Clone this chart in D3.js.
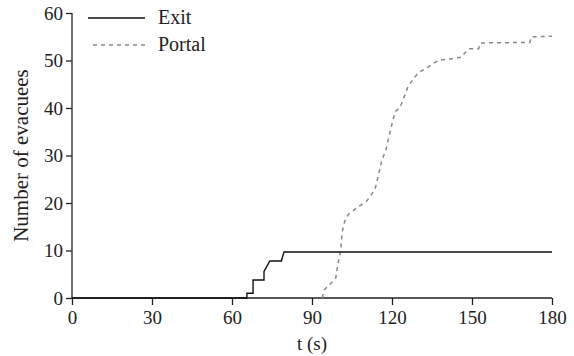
<!DOCTYPE html>
<html>
<head>
<meta charset="utf-8">
<script src="https://cdn.jsdelivr.net/npm/d3@7"></script>
<style>
  body { margin: 0; background: #fff; }
  text { font-family: "Liberation Serif", "Times New Roman", serif; fill: #222; }
  .axis path, .axis line { stroke: #222; stroke-width: 1.3; }
  .axis text { font-size: 19px; font-family: "Liberation Serif", serif; fill: #222; }
</style>
</head>
<body>
<div id="chart"></div>
<script>
// Data
const xTicks = [0, 30, 60, 90, 120, 150, 180];
const yTicks = [0, 10, 20, 30, 40, 50, 60];

const exitTime  = [0, 65.6, 65.6, 67.9, 67.9, 72.0, 72.0, 74.2, 78.5, 79.5, 180];
const exitCount = [0, 0,    1,    1,    3.8,  3.8,  5.6,  7.8,  7.8,  9.7,  9.7];

const portalTime  = [93.8, 94.7, 97.3, 98.9, 99.8, 100.7, 101.1, 101.4, 102.3, 103.6, 107.3, 110.5, 113.6, 114.8, 116.1, 117.7, 119.2, 120.4, 121.3, 122.9, 124.2, 126.1, 127.9, 129.8, 132.3, 134.8, 137.3, 146.1, 147.3, 149.2, 152.5, 153.2, 171.7, 172.3, 180];
const portalCount = [0,    1.8,  3.2,  4.2,  7.4,  9.8,   12.3,  14.1,  16.2,  17.6,  19.2,  20.4,  22.8,  25.6,  28.8,  31.2,  34.8,  37.6,  39.3,  40.0,  41.8,  44.6,  46.0,  47.4,  48.2,  49.1,  50.0,  50.7,  51.6,  52.5,  52.5,  53.7,  53.8,  55.0,  55.1];

const seriesNames = ["Exit", "Portal"];

// Layout
const W = 574, H = 356;
const MARGIN = { LEFT: 72, RIGHT: 22, TOP: 13, BOTTOM: 58 };

const svg = d3.select("#chart").append("svg").attr("width", W).attr("height", H);

const x = d3.scaleLinear().domain([0, 180]).range([MARGIN.LEFT, W - MARGIN.RIGHT]);
const y = d3.scaleLinear().domain([0, 60]).range([H - MARGIN.BOTTOM, MARGIN.TOP]);

// Axes
svg.append("g").attr("class", "axis")
  .attr("transform", `translate(0,${H - MARGIN.BOTTOM})`)
  .call(d3.axisBottom(x).tickValues(xTicks).tickSize(7).tickSizeOuter(0).tickPadding(6))
  .call(g => g.select(".domain").attr("d", `M${x(0)},0H${x(180)}`));

svg.append("g").attr("class", "axis")
  .attr("transform", `translate(${MARGIN.LEFT},0)`)
  .call(d3.axisLeft(y).tickValues(yTicks).tickSize(6).tickSizeOuter(0).tickPadding(3))
  .call(g => g.select(".domain").attr("d", `M0,${y(0)}V${y(60)}`));

// Axis titles
svg.append("text")
  .attr("x", (x(0) + x(180)) / 2).attr("y", 350)
  .attr("text-anchor", "middle").attr("font-size", "19px")
  .text("t (s)");

svg.append("text")
  .attr("transform", `translate(28,${(y(0) + y(60)) / 2}) rotate(-90)`)
  .attr("text-anchor", "middle").attr("font-size", "21px")
  .text("Number of evacuees");

// Lines
const line = d3.line().x(d => x(d[0])).y(d => y(d[1]));

svg.append("path")
  .datum(d3.zip(portalTime, portalCount))
  .attr("fill", "none").attr("stroke", "#888").attr("stroke-width", 1.5)
  .attr("stroke-dasharray", "4,4")
  .attr("d", line);

svg.append("path")
  .datum(d3.zip(exitTime, exitCount))
  .attr("fill", "none").attr("stroke", "#111").attr("stroke-width", 1.4)
  .attr("d", line);

// Legend
const legend = svg.append("g");
seriesNames.forEach((name, i) => {
  const ly = 18 + i * 27;
  legend.append("line")
    .attr("x1", i === 0 ? 88 : 93).attr("x2", 145).attr("y1", ly).attr("y2", ly)
    .attr("stroke", i === 0 ? "#111" : "#888").attr("stroke-width", 1.4)
    .attr("stroke-dasharray", i === 0 ? null : "4,4");
  legend.append("text")
    .attr("x", 158).attr("y", ly + 6).attr("font-size", "20px")
    .text(name);
});
</script>
</body>
</html>
